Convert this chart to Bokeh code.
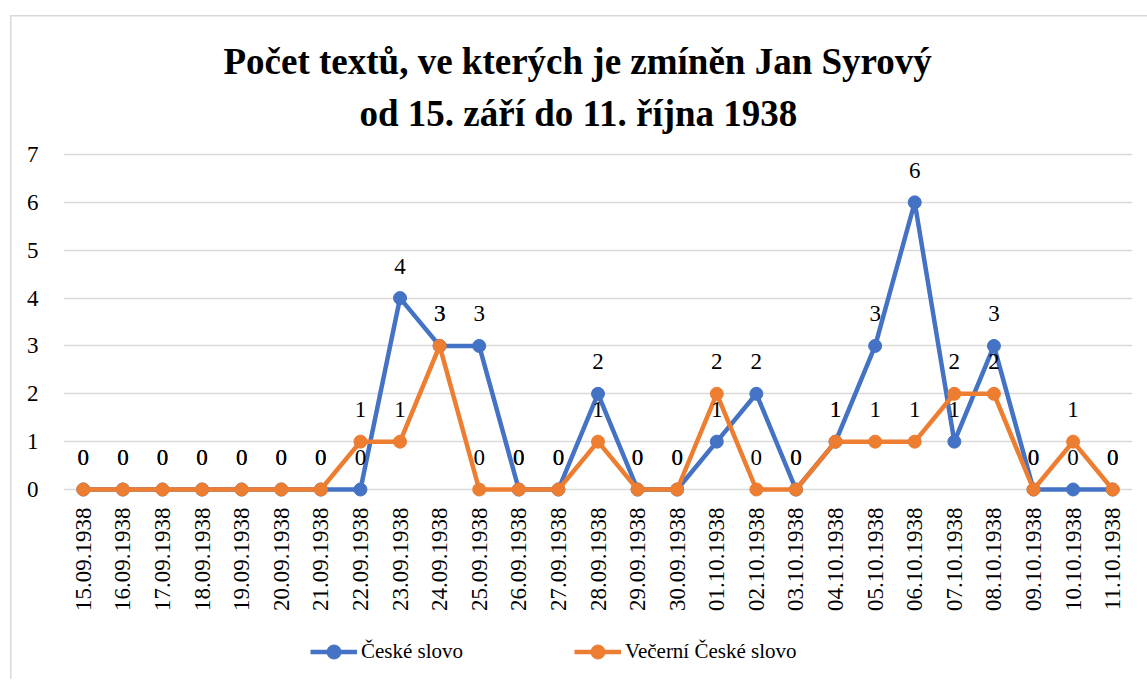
import math
from bokeh.plotting import figure
from bokeh.models import FactorRange, Range1d, FixedTicker, Title, Legend, LegendItem
from bokeh.embed import file_html
from bokeh.resources import INLINE
from bokeh.core.properties import value

dates = ["15.09.1938", "16.09.1938", "17.09.1938", "18.09.1938", "19.09.1938",
         "20.09.1938", "21.09.1938", "22.09.1938", "23.09.1938", "24.09.1938",
         "25.09.1938", "26.09.1938", "27.09.1938", "28.09.1938", "29.09.1938",
         "30.09.1938", "01.10.1938", "02.10.1938", "03.10.1938", "04.10.1938",
         "05.10.1938", "06.10.1938", "07.10.1938", "08.10.1938", "09.10.1938",
         "10.10.1938", "11.10.1938"]
ceske_slovo = [0, 0, 0, 0, 0, 0, 0, 0, 4, 3, 3, 0, 0, 2, 0, 0, 1, 2, 0, 1, 3, 6, 1, 3, 0, 0, 0]
vecerni_ceske_slovo = [0, 0, 0, 0, 0, 0, 0, 1, 1, 3, 0, 0, 0, 1, 0, 0, 2, 0, 0, 1, 1, 1, 2, 2, 0, 1, 0]
series_names = ["České slovo", "Večerní České slovo"]
title_lines = ["Počet textů, ve kterých je zmíněn Jan Syrový", "od 15. září do 11. října 1938"]
y_ticks = [0, 1, 2, 3, 4, 5, 6, 7]

FONT = "Liberation Serif"
BLUE = "#4472C4"
ORANGE = "#ED7D31"

# frame reaches the bottom of the canvas so the category labels and the legend fit below the baseline
p = figure(frame_width=1069, frame_height=535, x_range=FactorRange(*dates),
           y_range=Range1d(-3.97, 7.209), x_axis_location=None,
           output_backend="svg", toolbar_location=None,
           min_border_left=63, min_border_right=15, min_border_top=144, min_border_bottom=0)
p.title.text = ""
p.title.visible = False
p.outline_line_color = None
p.border_fill_color = None
p.background_fill_color = None
p.styles = {
    "background-color": "white",
    "background-image": "linear-gradient(#d9d9d9, #d9d9d9), linear-gradient(#d9d9d9, #d9d9d9)",
    "background-size": "1.5px calc(100% - 15px), calc(100% - 10px) 1.5px",
    "background-position": "10px 15px, 10px 15px",
    "background-repeat": "no-repeat",
}
p.xgrid.visible = False
p.ygrid.grid_line_color = "#d9d9d9"
p.ygrid.grid_line_width = 1.3
p.ygrid.ticker = FixedTicker(ticks=y_ticks)

p.yaxis.ticker = FixedTicker(ticks=y_ticks)
p.yaxis.axis_line_color = None
p.yaxis.major_tick_line_color = None
p.yaxis.minor_tick_line_color = None
p.yaxis.major_label_text_font = FONT
p.yaxis.major_label_text_font_size = "23px"
p.yaxis.major_label_text_color = "black"
p.yaxis.major_label_standoff = 19

p.add_layout(Title(text=title_lines[1], align="left", offset=296, standoff=21, text_font=FONT,
                   text_font_size="37px", text_font_style="bold", text_color="black"), "above")
p.add_layout(Title(text=title_lines[0], align="left", offset=160, standoff=-3, text_font=FONT,
                   text_font_size="37px", text_font_style="bold", text_color="black"), "above")

# category labels, vertical, hanging below the zero line
p.text(x=dates, y=[y_ticks[0]] * len(dates), text=dates, angle=math.pi / 2,
       text_align="right", text_baseline="middle", y_offset=18,
       text_font=value(FONT), text_font_size="23px", text_color="black")

l1 = p.line(dates, ceske_slovo, line_color=BLUE, line_width=4.5)
c1 = p.scatter(dates, ceske_slovo, size=13, fill_color=BLUE, line_color=BLUE)
l2 = p.line(dates, vecerni_ceske_slovo, line_color=ORANGE, line_width=4.5)
c2 = p.scatter(dates, vecerni_ceske_slovo, size=13, fill_color=ORANGE, line_color=ORANGE)

for vals in (ceske_slovo, vecerni_ceske_slovo):
    p.text(x=dates, y=vals, text=[str(v) for v in vals], text_align="center",
           text_baseline="middle", y_offset=-32, text_font=value(FONT),
           text_font_size="23px", text_color="black")

legend = Legend(items=[LegendItem(label=series_names[0], renderers=[l1, c1]),
                       LegendItem(label=series_names[1], renderers=[l2, c2])],
                orientation="horizontal", location=(247, 10),
                label_text_font=FONT, label_text_font_size="21px", label_text_color="black",
                glyph_width=47, glyph_height=35, spacing=111, label_standoff=4,
                border_line_color=None, background_fill_alpha=0, padding=0, margin=0)
p.add_layout(legend, "center")

open("out.html", "w").write(file_html(p, INLINE))
